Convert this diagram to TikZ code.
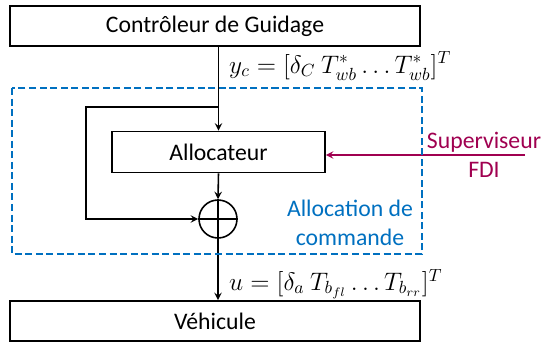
\documentclass[tikz,border=0pt]{standalone}
\usepackage{fontspec}
\setmainfont{Carlito}
\usepackage{amsmath}
\usepackage{xcolor}
\usetikzlibrary{arrows,positioning,calc}

\definecolor{allocblue}{RGB}{0,112,192}
\definecolor{supred}{RGB}{160,0,80}

\begin{document}
\begin{tikzpicture}[
    x=0.02cm, y=-0.02cm,
    font=\fontsize{13.5}{16.5}\selectfont,
    block/.style={rectangle, draw=black, line width=0.9pt, text centered, minimum height=0.8cm},
    sum/.style={circle, draw=black, line width=0.9pt, minimum size=0.76cm, inner sep=0pt},
    arrow/.style={->, >=stealth, line width=0.9pt},
    siglabel/.style={anchor=west, font=\fontsize{14}{16}\selectfont}
]
    \useasboundingbox (0,0) rectangle (541,345);

    \node[block, minimum width=8.2cm] (CTRL) at (215,26) {Contrôleur de Guidage};
    \node[block, minimum width=4.26cm, minimum height=0.82cm] (ALLOC) at (218.5,152) {Allocateur};
    \node[sum] (SUM) at (218,219) {};
    \node[block, minimum width=8.2cm] (VEH) at (215,321) {Véhicule};

    % plus sign
    \draw[line width=0.9pt] (SUM.north) -- (SUM.south) (SUM.west) -- (SUM.east);

    % main chain
    \draw[arrow] (CTRL.south -| ALLOC) -- (ALLOC.north);
    \draw[arrow] (ALLOC.south) -- (SUM.north);
    \draw[arrow] (SUM.south) -- (VEH.north -| SUM);
    \draw[arrow] (218,107) -- (86,107) -- (86,219) -- (SUM.west);

    % supervisor
    \coordinate (FDIIN) at (525,155);
    \draw[arrow, draw=supred] (FDIIN) -- (FDIIN -| ALLOC.east);
    \node[text=supred, align=center] (SUP) at (484,155) {Superviseur\\FDI};

    % dashed allocation block
    \draw[draw=allocblue, line width=1.1pt, dash pattern=on 4pt off 2pt] (12,88) rectangle (422,254);
    \node[text=allocblue, align=center] (ALLOCTXT) at (350,223) {Allocation de\\commande};

    % signal labels
    \node[siglabel] (YC) at (223,66) {$y_c = [\delta_C\ T^*_{wb} \ldots T^*_{wb}]^T$};
    \node[siglabel] (U) at (223,284) {$u = [\delta_a\ T_{b_{fl}} \ldots T_{b_{rr}}]^T$};
\end{tikzpicture}
\end{document}
